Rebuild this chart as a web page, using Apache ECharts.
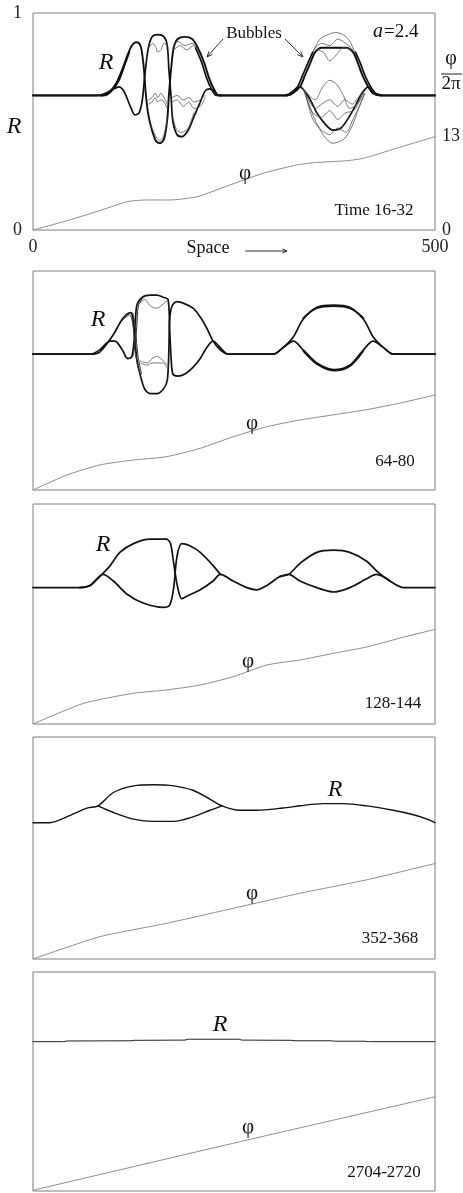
<!DOCTYPE html>
<html>
<head>
<meta charset="utf-8">
<script src="https://cdn.jsdelivr.net/npm/echarts@6/dist/echarts.min.js"></script>
<style>
html,body{margin:0;padding:0;background:#fff}
#c{width:463px;height:1193px}
</style>
</head>
<body>
<div id="c"></div>
<script>
// Amplitude R(x) and phase phi(x)/2pi snapshots, space 0..500.
// Each R array holds [space, R] pairs; each phase array holds [space, phi/2pi].

// ---- Time 16-32 ----
const r1Upper = [[0,.62],[80,.62],[87,.62],[96,.64],[104,.68],[112,.75],[118,.81],[123,.85],[128,.865],[132,.86],[135,.83],[138,.74],[140,.64],[143,.54],[148,.46],[153,.41],[158,.40],[163,.42],[167,.51],[169,.62],[172,.75],[175,.84],[180,.88],[189,.89],[198,.88],[205,.84],[213,.77],[219,.70],[225,.65],[231,.62],[239,.62],
  [316,.62],[323,.63],[332,.66],[338,.71],[345,.77],[351,.82],[359,.84],[374,.84],[389,.84],[398,.82],[404,.77],[410,.71],[417,.66],[423,.63],[432,.62],[500,.62]];
const r1Lower = [[0,.62],[80,.62],[90,.63],[100,.65],[107,.66],[113,.64],[121,.57],[127,.53],[132,.54],[136,.60],[139,.71],[143,.83],[148,.89],[155,.90],[163,.89],[167,.85],[169,.74],[172,.60],[174,.50],[179,.44],[185,.43],[193,.46],[200,.52],[208,.59],[214,.64],[219,.65],[225,.64],[231,.62],[239,.62],
  [316,.62],[323,.63],[332,.66],[338,.64],[345,.60],[353,.54],[363,.49],[373,.46],[383,.47],[393,.52],[402,.58],[409,.63],[417,.66],[423,.63],[432,.62],[500,.62]];
const r1MidTop = [[144,.84],[149,.86],[153,.84],[155,.82],[159,.83],[163,.86],[167,.85]];
const r1MidLowA = [[144,.60],[148,.61],[152,.63],[155,.61],[159,.63],[163,.61],[167,.58]];
const r1MidLowB = [[144,.58],[148,.59],[152,.61],[155,.59],[159,.60],[163,.59],[167,.56]];
const r1MidBottom = [[147,.48],[153,.43],[158,.41],[163,.44],[167,.52]];
const r1SideTopA = [[174,.84],[180,.87],[189,.85],[198,.86],[205,.83]];
const r1SideTopB = [[175,.83],[183,.85],[191,.83],[200,.85],[206,.82]];
const r1SideLowA = [[173,.61],[179,.62],[187,.60],[194,.61],[200,.59],[208,.60],[214,.62]];
const r1SideLowB = [[173,.59],[179,.60],[187,.57],[194,.59],[200,.56],[208,.57],[214,.61]];
const r1SideBottom = [[174,.52],[179,.46],[185,.45],[193,.47],[200,.54]];
const r1FlankA = [[84,.62],[90,.62],[99,.645],[107,.69],[114,.76],[120,.82]];
const r1FlankB = [[202,.84],[210,.77],[216,.70],[222,.65],[228,.62],[236,.62]];
const r1FlankC = [[313,.62],[320,.63],[329,.66],[335,.71],[342,.77],[348,.82]];
const r1FlankD = [[401,.82],[407,.77],[413,.71],[420,.66],[426,.63],[435,.62]];
const r1HighA = [[338,.64],[351,.60],[359,.65],[369,.69],[378,.67],[386,.62],[394,.56],[403,.58],[410,.63]];
const r1HighB = [[338,.64],[351,.56],[359,.58],[369,.60],[379,.57],[388,.60],[397,.58],[404,.61],[410,.63]];
const r1HighC = [[338,.64],[348,.54],[359,.52],[369,.55],[379,.51],[389,.54],[399,.55],[407,.60],[412,.64]];
const r1HighD = [[338,.64],[348,.51],[359,.46],[369,.44],[379,.47],[389,.45],[398,.51],[407,.58],[412,.63]];
const r1HighOuter = [[336,.65],[347,.54],[359,.45],[373,.40],[387,.42],[397,.48],[405,.56],[413,.63]];
const r1CapA = [[348,.82],[357,.88],[367,.90],[376,.91],[386,.90],[394,.87],[400,.82]];
const r1CapB = [[349,.83],[359,.86],[369,.85],[379,.88],[389,.86],[398,.83]];
const r1CapC = [[352,.83],[361,.82],[369,.78],[378,.81],[386,.84],[397,.83]];
const phase1 = [[0,0],[38,1.15],[79,2.53],[117,3.91],[141,4.15],[170,4.15],[204,4.6],[245,6.22],[286,7.84],[328,8.99],[349,9.3],[390,9.58],[411,9.91],[452,11.3],[500,12.9]];

// ---- 64-80 ----
const r2Upper = [[0,.62],[71,.62],[83,.63],[100,.71],[111,.78],[121,.81],[124,.79],[127,.68],[129,.60],[133,.53],[139,.46],[146,.44],[154,.44],[162,.46],[167,.50],[169,.64],[170,.78],[173,.84],[179,.86],[189,.85],[199,.83],[208,.79],[216,.74],[224,.68],[233,.64],[243,.62],[251,.62],
  [299,.62],[311,.65],[324,.70],[336,.78],[353,.83],[374,.84],[394,.83],[411,.78],[423,.70],[436,.65],[448,.62],[500,.62]];
const r2Lower = [[0,.62],[71,.62],[83,.64],[96,.68],[102,.68],[111,.64],[118,.60],[123,.61],[127,.73],[129,.84],[136,.88],[146,.89],[154,.89],[162,.88],[168,.87],[170,.73],[172,.59],[174,.53],[180,.52],[189,.53],[199,.56],[208,.60],[216,.65],[224,.68],[233,.65],[243,.62],[251,.62],
  [299,.62],[311,.65],[324,.68],[336,.64],[353,.58],[374,.55],[394,.57],[411,.64],[423,.68],[436,.65],[448,.62],[500,.62]];
const r2TwistA = [[113,.79],[123,.81],[126,.78],[129,.67],[131,.60],[135,.53]];
const r2TwistB = [[114,.61],[121,.60],[125,.62],[129,.74],[131,.84],[137,.88]];
const r2TwistC = [[110,.77],[120,.80],[124,.76],[127,.64],[130,.57],[134,.52]];
const r2MidTop = [[129,.84],[139,.87],[146,.84],[154,.83],[162,.85],[168,.87]];
const r2MidLowA = [[133,.59],[142,.58],[148,.60],[154,.61],[162,.59],[168,.57]];
const r2MidLowB = [[133,.58],[142,.57],[148,.58],[154,.58],[162,.58],[168,.55]];
const r2ArcTop = [[336,.785],[353,.835],[374,.845],[394,.835],[411,.785]];
const r2ArcBottom = [[336,.635],[353,.575],[374,.545],[394,.565],[411,.635]];
const phase2 = [[0,0],[42,2.05],[83,3.43],[125,4.11],[166,4.56],[208,5.71],[249,7.3],[291,8.67],[332,9.59],[374,10.3],[415,11.0],[456,11.9],[500,13.0]];

// ---- 128-144 ----
const r3Upper = [[0,.62],[58,.62],[71,.63],[83,.67],[96,.72],[108,.78],[125,.82],[146,.84],[166,.84],[171,.82],[175,.73],[180,.62],[185,.57],[191,.58],[208,.61],[224,.65],[233,.68],[249,.65],[266,.62],[278,.61],[291,.63],[307,.67],[318,.68],[332,.73],[353,.78],[374,.79],[394,.78],[415,.74],[429,.69],[444,.65],[461,.62],[500,.62]];
const r3LowerLeft = [[58,.62],[71,.63],[87,.68],[100,.65],[117,.59],[137,.55],[162,.53],[170,.54],[175,.62],[179,.76],[185,.82],[195,.81],[208,.78],[224,.72],[233,.68]];
const r3LowerRight = [[307,.67],[318,.68],[332,.65],[353,.62],[374,.60],[394,.62],[415,.66],[427,.68],[444,.65]];
const phase3 = [[0,0],[63,2.82],[125,4.19],[166,4.64],[208,5.32],[249,6.45],[291,8.05],[332,8.73],[374,9.64],[415,10.5],[456,11.7],[500,12.9]];

// ---- 352-368 ----
const r4Upper = [[0,.614],[21,.614],[42,.64],[67,.68],[81,.69],[100,.75],[125,.78],[150,.785],[175,.78],[199,.76],[220,.72],[235,.69],[257,.67],[278,.67],[311,.68],[332,.69],[361,.70],[386,.70],[415,.69],[448,.67],[473,.65],[490,.63],[500,.614]];
const r4Lower = [[81,.69],[100,.66],[125,.63],[150,.62],[175,.62],[199,.64],[220,.67],[235,.69]];
const phase4 = [[0,0],[83,3.01],[166,4.82],[249,6.85],[332,8.88],[415,10.7],[500,12.9]];

// ---- 2704-2720 ----
const r5 = [[0,.682],[38,.682],[42,.685],[122,.686],[126,.688],[189,.689],[193,.693],[256,.693],[260,.689],[322,.688],[326,.686],[371,.686],[375,.684],[413,.684],[417,.682],[500,.682]];
const phase5 = [[0,0.1],[267,7.0],[500,12.9]];

const timeLabels = ['Time 16-32', '64-80', '128-144', '352-368', '2704-2720'];
const rTicks = [0, 1];
const phaseTicks = [0, 13];
const spaceTicks = [0, 500];

// ---- layout ----
const panels = [
  {top: 13, height: 217},
  {top: 271, height: 219},
  {top: 504, height: 220},
  {top: 737, height: 222},
  {top: 972, height: 219}
];
const SERIF = '"Liberation Serif", "DejaVu Serif", serif';
const INK = '#111';

const grids = [], xAxes = [], yAxes = [], series = [];
panels.forEach((p, i) => {
  grids.push({left: 33, right: 28, top: p.top, height: p.height, show: true,
    borderColor: '#7d7d7d', borderWidth: 1, backgroundColor: 'transparent'});
  xAxes.push({type: 'value', gridIndex: i, min: 0, max: 500, interval: 500,
    axisLine: {show: false}, axisTick: {show: false}, splitLine: {show: false},
    axisLabel: {show: i === 0, margin: 8, color: '#222', fontFamily: SERIF, fontSize: 18,
      formatter: v => spaceTicks.includes(v) ? String(v) : ''}});
  yAxes.push({type: 'value', gridIndex: i, position: 'left', min: 0, max: 1, interval: 1,
    axisLine: {show: false}, axisTick: {show: false}, splitLine: {show: false},
    axisLabel: {show: i === 0, margin: 11, color: '#222', fontFamily: SERIF, fontSize: 18,
      formatter: v => rTicks.includes(v) ? String(v) : ''}});
  yAxes.push({type: 'value', gridIndex: i, position: 'right', min: 0, max: 30, interval: 13,
    axisLine: {show: false}, axisTick: {show: false}, splitLine: {show: false},
    axisLabel: {show: i === 0, margin: 7, color: '#222', fontFamily: SERIF, fontSize: 18,
      formatter: v => phaseTicks.includes(v) ? String(v) : ''}});
});

function curve(data, panel, width, color, axis, smooth) {
  series.push({type: 'line', xAxisIndex: panel, yAxisIndex: panel * 2 + (axis || 0),
    data: data, showSymbol: false, smooth: smooth === undefined ? 0.3 : smooth, silent: true,
    lineStyle: {width: width, color: color || INK, join: 'round', cap: 'round'}, z: 3});
}

// amplitude curves
curve(r1Upper, 0, 1.9); curve(r1Lower, 0, 1.7);
[r1FlankA, r1FlankB, r1FlankC, r1FlankD].forEach(d => curve(d, 0, 1.7));
[r1MidTop, r1MidLowA, r1MidLowB, r1MidBottom, r1SideTopA, r1SideTopB, r1SideLowA, r1SideLowB, r1SideBottom,
 r1HighA, r1HighB, r1HighC, r1HighD, r1HighOuter, r1CapA, r1CapB, r1CapC].forEach(d => curve(d, 0, 0.8, '#555'));
curve(r2Upper, 1, 1.7); curve(r2Lower, 1, 1.7);
[r2TwistA, r2TwistB, r2TwistC].forEach(d => curve(d, 1, 1.0, '#333'));
[r2MidTop, r2MidLowA, r2MidLowB].forEach(d => curve(d, 1, 0.8, '#555'));
[r2ArcTop, r2ArcBottom].forEach(d => curve(d, 1, 1.6));
curve(r3Upper, 2, 1.7); curve(r3LowerLeft, 2, 1.7); curve(r3LowerRight, 2, 1.7);
curve(r4Upper, 3, 1.4); curve(r4Lower, 3, 1.4);
curve(r5, 4, 1.0, '#222', 0, false);

// phase curves
[phase1, phase2, phase3, phase4, phase5].forEach((d, i) => curve(d, i, 1.0, '#8c8c8c', 1, 0.2));

// ---- annotations ----
function txt(s, x, y, size, opts) {
  opts = opts || {};
  return {type: 'text', x: x, y: y, z: 10, silent: true,
    style: {text: s, font: (opts.italic ? 'italic ' : '') + size + 'px ' + SERIF,
      fill: opts.fill || INK, align: opts.align || 'center', verticalAlign: 'middle'}};
}
function arrow(x1, y1, x2, y2, head) {
  const a = Math.atan2(y2 - y1, x2 - x1), h = head || 6;
  return [
    {type: 'line', silent: true, z: 10, shape: {x1: x1, y1: y1, x2: x2, y2: y2}, style: {stroke: '#333', lineWidth: 1}},
    {type: 'polyline', silent: true, z: 10, shape: {points: [
      [x2 - h * Math.cos(a - 0.4), y2 - h * Math.sin(a - 0.4)], [x2, y2],
      [x2 - h * Math.cos(a + 0.4), y2 - h * Math.sin(a + 0.4)]]}, style: {stroke: '#333', lineWidth: 1, fill: null}}
  ];
}

const graphics = [
  txt('R', 106, 63, 24, {italic: true}),
  txt('R', 14, 127, 24, {italic: true}),
  txt('Bubbles', 254, 34, 17),
  ...arrow(223, 39, 207, 57, 6),
  ...arrow(285, 39, 303, 57, 6),
  txt('a', 378, 32, 20, {italic: true}),
  txt('=2.4', 384, 32, 19, {align: 'left'}),
  txt('\u03c6', 451, 59, 20),
  {type: 'line', silent: true, shape: {x1: 441, y1: 74, x2: 462, y2: 74}, style: {stroke: '#222', lineWidth: 1}},
  txt('2\u03c0', 451, 84, 19),
  txt('Space', 208, 248, 18),
  ...arrow(245, 251, 287, 251, 5),
  txt('\u03c6', 245, 173, 21),
  txt(timeLabels[0], 374, 211, 17),
  txt('R', 98, 320, 24, {italic: true}),
  txt('\u03c6', 252, 423, 21),
  txt(timeLabels[1], 395, 462, 17),
  txt('R', 103, 545, 24, {italic: true}),
  txt('\u03c6', 248, 661, 21),
  txt(timeLabels[2], 393, 704, 17),
  txt('R', 335, 790, 24, {italic: true}),
  txt('\u03c6', 252, 893, 21),
  txt(timeLabels[3], 390, 939, 17),
  txt('R', 220, 1025, 24, {italic: true}),
  txt('\u03c6', 248, 1127, 21),
  txt(timeLabels[4], 384, 1173, 17)
];

const chart = echarts.init(document.getElementById('c'), null, {renderer: 'canvas'});
chart.setOption({
  animation: false,
  backgroundColor: '#fff',
  grid: grids,
  xAxis: xAxes,
  yAxis: yAxes,
  series: series,
  graphic: graphics
});
</script>
</body>
</html>
